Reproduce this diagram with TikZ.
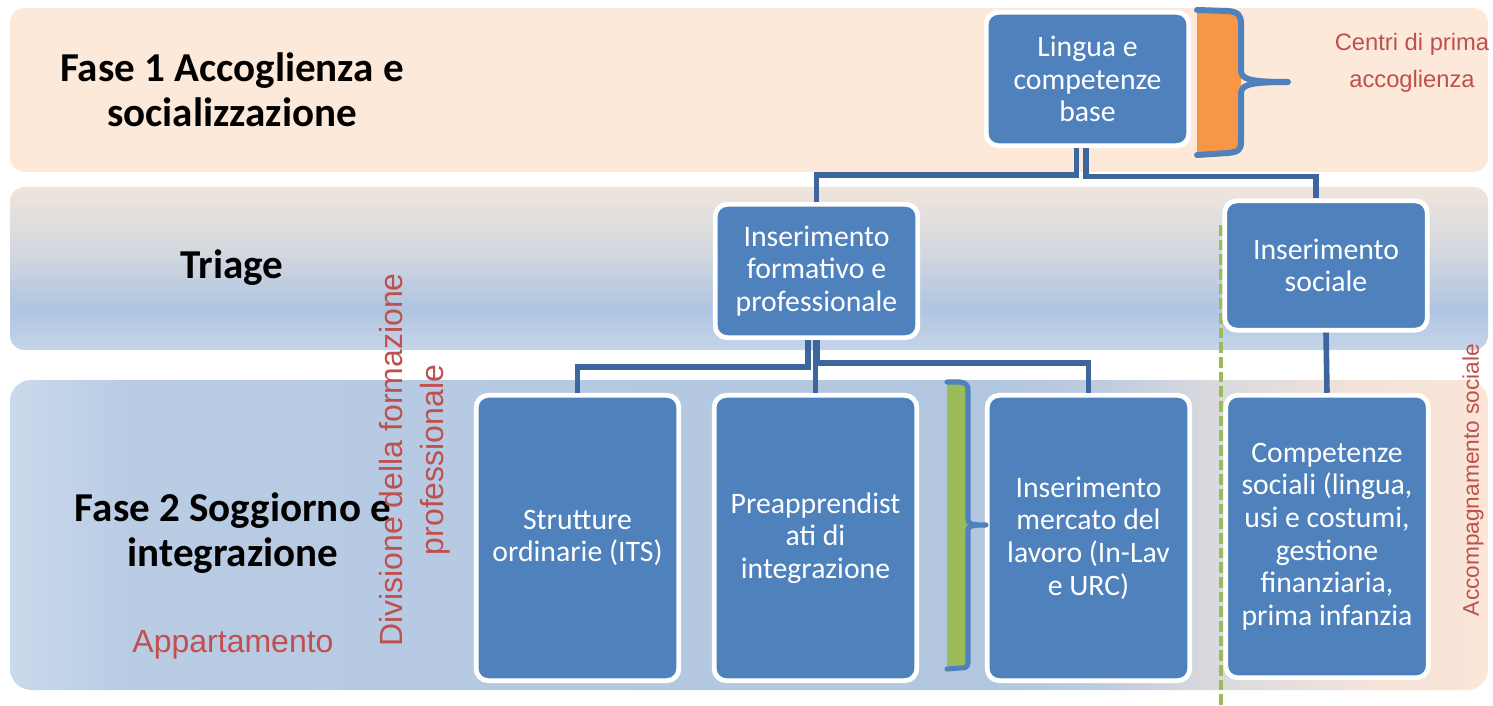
\documentclass[tikz,border=0pt]{standalone}
\usepackage{fontspec}
\setmainfont{Carlito}
\newfontfamily\arialf{Liberation Sans}
\usetikzlibrary{calc}
\definecolor{bandpeach}{HTML}{FDE9D9}
\definecolor{boxblue}{HTML}{4F81BD}
\definecolor{connblue}{HTML}{3D679C}
\definecolor{redtxt}{HTML}{C0504D}
\definecolor{orangefill}{HTML}{F79646}
\definecolor{greenfill}{HTML}{9BBB59}
\definecolor{btwoA}{HTML}{C5D5E9}
\definecolor{btwoB}{HTML}{B0C5E1}
\definecolor{btwoC}{HTML}{D3D7DF}
\definecolor{btwoD}{HTML}{EFE5DC}
\definecolor{bthrA}{HTML}{CAD9EB}
\definecolor{bthrB}{HTML}{B9CCE4}
\definecolor{bthrC}{HTML}{B2C6E0}
\definecolor{bthrD}{HTML}{BFCBDF}
\definecolor{bthrE}{HTML}{D8D9DE}
\definecolor{bthrF}{HTML}{F4E3D9}
\definecolor{bthrG}{HTML}{FBE6D8}
\pgfdeclareverticalshading{bandtwo}{100bp}{color(0bp)=(btwoA); color(25bp)=(btwoA); color(37.5bp)=(btwoB); color(55bp)=(btwoC); color(75bp)=(btwoD); color(100bp)=(btwoD)}
\pgfdeclarehorizontalshading{bandthree}{100bp}{color(0bp)=(bthrA); color(25bp)=(bthrA); color(29bp)=(bthrB); color(58bp)=(bthrC); color(62bp)=(bthrD); color(65.5bp)=(bthrE); color(71bp)=(bthrF); color(75bp)=(bthrG); color(100bp)=(bthrG)}
\begin{document}
\begin{tikzpicture}[x=0.75pt,y=-0.75pt,
  stepbox/.style={draw=white, line width=3.6pt, fill=boxblue, rounded corners=9pt, text=white, align=center, font=\fontsize{22.3}{24.5}\selectfont, minimum width=152pt, inner sep=0pt},
  boxshort/.style={minimum height=100pt},
  boxtall/.style={minimum height=214pt},
  conn/.style={draw=connblue, line width=4.2pt},
  phase/.style={font=\fontsize{30.8}{34}\selectfont\bfseries, align=center},
  note/.style={text=redtxt, align=center},
  bracestroke/.style={draw=boxblue, line join=round, line cap=round}]
\useasboundingbox (0,0) rectangle (1493,706);
\fill[white] (0,0) rectangle (1493,706);
% bands
\fill[bandpeach, rounded corners=11pt] (10,8) rectangle (1488,172);
\shade[shading=bandtwo, rounded corners=11pt] (10,187) rectangle (1488,350);
\shade[shading=bandthree, rounded corners=16pt] (10,380) rectangle (1488,690);
% green dashed line
\draw[greenfill, line width=2.4pt, dash pattern=on 8pt off 3pt] (1221,225) -- (1221,706);
% boxes
\node[stepbox,boxshort] (lingua) at (1087.5,79) {Lingua e\\competenze\\base};
\node[stepbox,boxshort] (formativo) at (816.5,271) {Inserimento\\formativo e\\professionale};
\node[stepbox,boxshort,minimum height=97pt] (sociale) at (1326,265.5) {Inserimento\\sociale};
\node[stepbox,boxtall] (strutture) at (577.5,538) {Strutture\\ordinarie (ITS)};
\node[stepbox,boxtall] (preapp) at (815.5,538) {Preapprendist\\ati di\\integrazione};
\node[stepbox,boxtall] (mercato) at (1088.5,538) {Inserimento\\mercato del\\lavoro (In-Lav\\e URC)};
\node[stepbox,boxtall,minimum height=212pt] (competenze) at (1327,536.5) {Competenze\\sociali (lingua,\\usi e costumi,\\gestione\\finanziaria,\\prima infanzia};
% connectors
\draw[conn] ($(lingua.south)+(-11,0)$) |- ($(formativo.north)+(0,-27)$) -- (formativo.north);
\draw[conn] ($(lingua.south)+(-1.5,0)$) |- ($(sociale.north)+(-10,-22)$) -- ($(sociale.north)+(-10,0)$);
\draw[conn] ($(formativo.south)+(-8.5,0)$) |- ($(strutture.north)+(0,-26)$) -- (strutture.north);
\draw[conn] ($(formativo.south)+(0.5,0)$) |- ($(mercato.north)+(0,-30)$) -- (mercato.north);
\draw[conn] (preapp.north) -- (preapp.north |- formativo.south);
\draw[conn] (sociale.south) -- (competenze.north);
% orange brace
\fill[orangefill] (1197,10) -- (1228,11) .. controls (1238,12) and (1241,15) .. (1241,24) -- (1241,142) .. controls (1241,150) and (1238,152) .. (1228,153) -- (1197,155) -- cycle;
\draw[bracestroke, line width=4.5pt] (1197,10) -- (1228,11) .. controls (1238,12) and (1241,15) .. (1241,24) -- (1241,70) .. controls (1241,79) and (1248,82) .. (1288,82) .. controls (1248,82) and (1241,85) .. (1241,94) -- (1241,142) .. controls (1241,150) and (1238,152) .. (1228,153) -- (1197,155);
% green brace
\fill[greenfill] (947,382) -- (960,382) .. controls (966,383) and (968,385) .. (968,390) -- (968,662) .. controls (968,667) and (966,668) .. (960,668) -- (947,669) -- cycle;
\draw[bracestroke, line width=3.8pt] (947,382) -- (960,382) .. controls (966,383) and (968,385) .. (968,390) -- (968,520) .. controls (968,524) and (972,525) .. (986,525) .. controls (972,525) and (968,526) .. (968,530) -- (968,662) .. controls (968,667) and (966,668) .. (960,668) -- (947,669);
% labels
\node[phase] (fase1) at (232,90) {Fase 1 Accoglienza e\\socializzazione};
\node[phase] (triage) at (232,268) {Triage};
\node[phase] (fase2) at (233,533) {Fase 2 Soggiorno e\\integrazione};
\node[note, font=\arialf\fontsize{24}{28}\selectfont] (appart) at (233,645) {Appartamento};
\node[note, font=\arialf\fontsize{17.8}{27.75}\selectfont] (centri) at (1412,63) {Centri di prima\\accoglienza};
\node[note, rotate=90, font=\arialf\fontsize{24}{30.75}\selectfont] (divisione) at (415,460) {Divisione della formazione\\professionale};
\node[note, rotate=90, font=\arialf\fontsize{17}{20}\selectfont] (accomp) at (1473,480) {Accompagnamento sociale};
\end{tikzpicture}
\end{document}
